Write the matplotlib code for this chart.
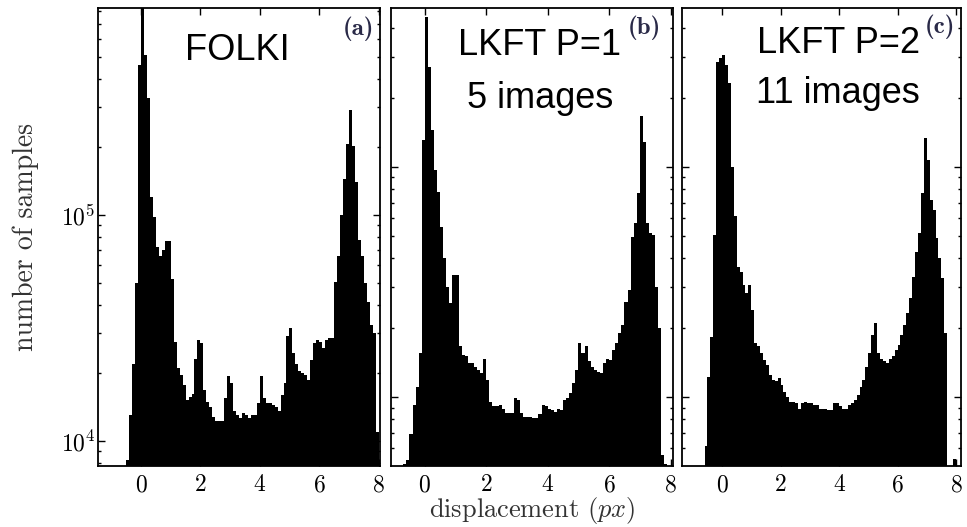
import numpy as np
import matplotlib
matplotlib.use("Agg")
import matplotlib.pyplot as plt
from matplotlib.ticker import LogLocator, NullFormatter

# histogram counts (in thousands), bin width 0.1 px
bin_width = 0.1

start_a = -0.5
counts_a = [8.2, 13, 22, 50, 460, 900, 510, 330, 120, 98,
            72, 66, 70, 77, 77, 52, 27.5, 21, 19.6, 17.7,
            15.2, 15.7, 16.2, 23, 28, 27, 16.8, 14.9, 14.2, 12.8,
            12.2, 12.2, 12.2, 15.5, 19.3, 18, 13.5, 13, 12.6, 13.3,
            13, 12.6, 13, 13, 14.7, 19.3, 15.5, 14.7, 14.7, 14.4,
            14.2, 13.5, 16, 18, 29, 31.5, 24.4, 22, 20.3, 19.9,
            19.6, 18.6, 22.8, 27, 28, 27.5, 25.7, 28, 28.5, 28.5,
            50.7, 65.5, 100, 145, 207, 292, 201, 140, 77.5, 65.5,
            50, 41.4, 32.6, 29.9, 11]

start_b = -0.7
counts_b = [5.1, 5.3, 6.9, 9.2, 11.1, 15.5, 131, 450, 273, 145,
            97, 78, 55, 40, 30, 25.5, 34, 34, 16.6, 15.2,
            15, 14, 14, 13.5, 13.1, 12.7, 14.7, 11.9, 9.5, 9.1,
            9.1, 9.2, 8.9, 8.5, 8.5, 8.5, 9.9, 9.7, 8.5, 8.2,
            8.2, 8.2, 8.1, 8.1, 8.4, 9.2, 9.1, 8.9, 8.8, 8.6,
            8.9, 8.8, 9.7, 9.9, 10.4, 11.5, 13.1, 17.1, 15.5, 16.6,
            14.3, 13.5, 13.1, 12.9, 12.7, 14, 14.7, 14.5, 16, 17.1,
            18.9, 20.6, 26, 29.2, 49.8, 57, 77, 166, 129, 57,
            51.5, 50.5, 30.2, 19.9, 5.6, 5.1, 1]

start_c = -0.6
counts_c = [6.1, 12.2, 18.3, 50.6, 287, 297, 307, 278, 231, 100,
            61, 36.9, 35.1, 30.7, 28.2, 30.7, 23.9, 17.1, 16.6, 15.5,
            14.5, 13.8, 12.5, 11.9, 11.7, 12.1, 11.3, 10.5, 10, 9.5,
            9.5, 9.4, 8.9, 9.4, 9.5, 9.4, 9.4, 9.2, 9.2, 8.9,
            8.9, 8.9, 8.8, 8.8, 9.4, 9.4, 9.1, 8.9, 8.9, 9.2,
            9.4, 9.7, 10.2, 11.1, 11.9, 13.5, 15.5, 18.6, 20.9, 15.5,
            14.7, 14.3, 14, 14.7, 15, 16, 16.8, 18.6, 20.6, 23.1,
            26.9, 33.4, 42.9, 51.5, 77, 133, 107, 72, 65, 49,
            40, 32.8, 18.9, 1, 1, 5.4, 1]

titles = ["FOLKI", "LKFT P=1", "LKFT P=2"]
subtitles = ["", "5 images", "11 images"]
tags = ["(a)", "(b)", "(c)"]
xticks = [0, 2, 4, 6, 8]

plt.rcParams['font.family'] = 'cmr10'
plt.rcParams['mathtext.fontset'] = 'cm'
plt.rcParams['axes.formatter.use_mathtext'] = True

W, H = 967, 527
fig = plt.figure(figsize=(W / 100, H / 100), dpi=100)

# panel boxes in pixels: left, right
boxes = [(98, 380), (391, 673), (682, 961)]
top, bottom = 8, 466
xlims = [(-1.45, 8.05), (-1.1, 8.08), (-1.37, 8.17)]
ylims = [(10 ** 3.889, 10 ** 5.916), (10 ** 3.70, 10 ** 5.691), (10 ** 3.70, 10 ** 5.691)]
starts = [start_a, start_b, start_c]
data = [counts_a, counts_b, counts_c]
title_pos = [(0.493, 0.886), (0.525, 0.897), (0.56, 0.902)]
sub_pos = [(0.5, 0.8), (0.528, 0.782), (0.56, 0.793)]
tag_pos = [(0.925, 0.954), (0.90, 0.956), (0.925, 0.958)]

for i in range(3):
    l, r = boxes[i]
    ax = fig.add_axes([l / W, (H - bottom) / H, (r - l) / W, (bottom - top) / H])
    vals = np.array(data[i]) * 1000
    edges = starts[i] + bin_width * np.arange(len(vals) + 1)
    ax.stairs(vals, edges, fill=True, color='black', baseline=1)
    ax.set_yscale('log')
    ax.set_xlim(*xlims[i])
    ax.set_ylim(*ylims[i])
    ax.set_xticks(xticks)
    ax.yaxis.set_major_locator(LogLocator(base=10))
    ax.yaxis.set_minor_locator(LogLocator(base=10, subs=np.arange(2, 10)))
    ax.yaxis.set_minor_formatter(NullFormatter())
    ax.tick_params(which='both', direction='in', top=True, right=True, width=1)
    ax.tick_params(which='major', length=5)
    ax.tick_params(which='minor', length=2.5)
    ax.tick_params(axis='x', labelsize=17, pad=6)
    ax.tick_params(axis='y', labelsize=17, pad=2)
    if i > 0:
        ax.set_yticklabels([])
    for s in ax.spines.values():
        s.set_linewidth(1.3)

    ax.text(*title_pos[i], titles[i], transform=ax.transAxes, ha='center', va='baseline',
            fontsize=26, family='Liberation Sans')
    if subtitles[i]:
        ax.text(*sub_pos[i], subtitles[i], transform=ax.transAxes, ha='center', va='baseline',
                fontsize=26, family='Liberation Sans')
    ax.text(*tag_pos[i], tags[i], transform=ax.transAxes, ha='center', va='center',
            fontsize=18, family='cmb10', color='#2a2a48')

fig.text(26 / W, (H - 237) / H, "number of samples", rotation=90, ha='center', va='center',
         fontsize=20, color='#333333')
fig.text(532 / W, (H - 510) / H, r"displacement $(px)$", ha='center', va='center',
         fontsize=19, color='#333333')

fig.savefig("out.png", dpi=100)
